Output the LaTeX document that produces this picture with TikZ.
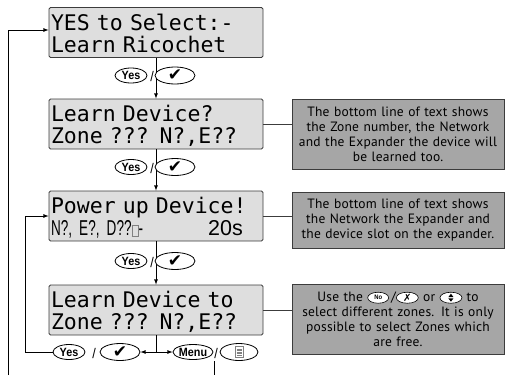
\documentclass[tikz,border=0pt]{standalone}
\usepackage{fontspec}
\usepackage{tikz}
\usetikzlibrary{shapes.geometric}
\setmainfont{Liberation Sans}
\newfontfamily\lcdfont{DejaVu Sans Mono}
\newfontfamily\lcdsans[FakeStretch=0.63]{Liberation Sans}
\newfontfamily\notefont[LetterSpace=1.5]{PT Sans}
\newfontfamily\keyfont[FakeStretch=0.9]{Liberation Sans}
\newfontfamily\symfont{DejaVu Sans}
\definecolor{lcdgray}{RGB}{222,222,222}
\definecolor{notegray}{RGB}{166,166,166}
\definecolor{edgegray}{RGB}{60,60,60}
\newcommand{\lcdtop}{\rule{0pt}{20pt}}
\newcommand{\lcdbot}{\rule[-3pt]{0pt}{3pt}}
\newcommand{\slotbox}{\textcolor{gray}{\fboxsep=0pt\fboxrule=0.5pt\fbox{\rule{0pt}{10pt}\hspace{6pt}}}}
\newcommand{\keyNo}{\tikz[baseline=-3.5pt]\node[draw,ellipse,fill=white,line width=0.6pt,inner sep=0pt,minimum width=21pt,minimum height=11pt,font=\keyfont\bfseries\fontsize{6.5}{6.5}\selectfont]{No};}
\newcommand{\keyX}{\tikz[baseline=-3.5pt]\node[draw,ellipse,fill=white,line width=0.6pt,inner sep=0pt,minimum width=22pt,minimum height=11pt,font=\symfont\fontsize{10}{10}\selectfont]{✗};}
\newcommand{\keyUD}{\tikz[baseline=-3.5pt]{\node[draw,ellipse,fill=white,line width=0.6pt,inner sep=0pt,minimum width=22pt,minimum height=11pt]{};
  \fill (-2.5pt,0.7pt) -- (2.5pt,0.7pt) -- (0pt,4pt) -- cycle;
  \fill (-2.5pt,-0.7pt) -- (2.5pt,-0.7pt) -- (0pt,-4pt) -- cycle;}}
\newcommand{\memoicon}{\tikz{\draw[gray,line width=0.6pt] (-4pt,-5.5pt) rectangle (4pt,5.5pt);
  \foreach \k in {-3,-1.5,...,3.5} \draw[gray,line width=0.5pt] (-2.5pt,\k pt) -- (2.5pt,\k pt);}}

\begin{document}
\begin{tikzpicture}[x=1pt,y=-1pt,>=latex,line width=0.8pt,
	lcd/.style={draw=edgegray,fill=lcdgray,rounded corners=1.5pt,text width=210pt,inner xsep=2pt,inner ysep=0pt,minimum height=50pt,align=left,font=\lcdfont\fontsize{21.5}{22}\selectfont},
	note/.style={draw=edgegray,fill=notegray,text width=206pt,inner xsep=3pt,inner ysep=0pt,align=center,font=\notefont\fontsize{13.5}{15}\selectfont},
	key/.style={draw,ellipse,fill=white,inner sep=0pt,minimum width=32pt,minimum height=15pt,font=\keyfont\bfseries\fontsize{12}{12}\selectfont},
	tick/.style={key,minimum width=40pt,minimum height=17pt,font=\symfont\fontsize{17}{17}\selectfont},
	sep/.style={inner sep=0pt,font=\keyfont\fontsize{14}{14}\selectfont}]
			\useasboundingbox (0,0) rectangle (505,375);
			
			\node[lcd] (l1) at (156,32.5) {\lcdtop YES to Select:-\\Learn Ricochet\lcdbot};
			\node[lcd] (l2) at (156,124) {\lcdtop Learn Device?\\Zone ??? N?,E??\lcdbot};
			\node[lcd] (l3) at (156,216) {\lcdtop Power up Device!\\{\lcdsans N?, E?, D??}\slotbox{\lcdsans -}\hspace{65pt}{\rmfamily 20s}\lcdbot};
			\node[lcd] (l4) at (156,310) {\lcdtop Learn Device to\\Zone ??? N?,E??\lcdbot};
			
			\node[note,minimum height=70pt] (nA) at (398,134) {The bottom line of text shows\\the Zone number, the Network\\and the Expander the device will\\be learned too.};
			\node[note,minimum height=56pt] (nB) at (398,220) {The bottom line of text shows\\the Network the Expander and\\the device slot on the expander.};
			\node[note,minimum height=70pt] (nC) at (398,319) {Use the \keyNo\,/\keyX\ or \keyUD\ to\\select different zones. It is only\\possible to select Zones which\\are free.};
			
			\draw[edgegray] (l2.east) -- (l2.east -| nA.west);
			\draw[edgegray] (l3.east) -- (l3.east -| nB.west);
			\draw[edgegray] (l4.east) -- (l4.east -| nC.west);
			
			\draw[->] (l1) -- (l2);
			\draw[->] (l2) -- (l3);
			\draw[->] (l3) -- (l4);
			\foreach \r/\y in {1/75.5,2/167,3/261}{
				\node[key] (yes\r) at (131,\y) {Yes};
				\node[sep] (sl\r) at (152,\y+1) {/};
				\node[tick] (tk\r) at (175,\y) {✔};
			}
			
			\node[key] (yesB) at (69,352) {Yes};
			\node[sep] (slB) at (94,353) {/};
			\node[tick] (tkB) at (120,352) {✔};
			\node[key,minimum width=40pt] (menu) at (193,352) {Menu};
			\node[sep] (slM) at (216,353) {/};
			\node[key,minimum width=38pt,minimum height=17pt] (memo) at (239,352) {\memoicon};
			
			\coordinate (jB) at (l4.south |- tkB);
			\coordinate (inB) at (25,352);
			\coordinate (outA) at (8,375);
			\coordinate (mTop) at (214,361);
			\coordinate (mBot) at (214,375);
			\draw (l4.south) -- (jB);
			\draw[->] (jB) -- (tkB);
			\draw[->] (jB) -- (menu);
			\draw[->] (yesB) -- (inB) |- (l3.west);
			\draw[->] (outA) |- ([yshift=2.5pt]l1.west);
			\draw (mTop) -- (mBot);
		\end{tikzpicture}
\end{document}
